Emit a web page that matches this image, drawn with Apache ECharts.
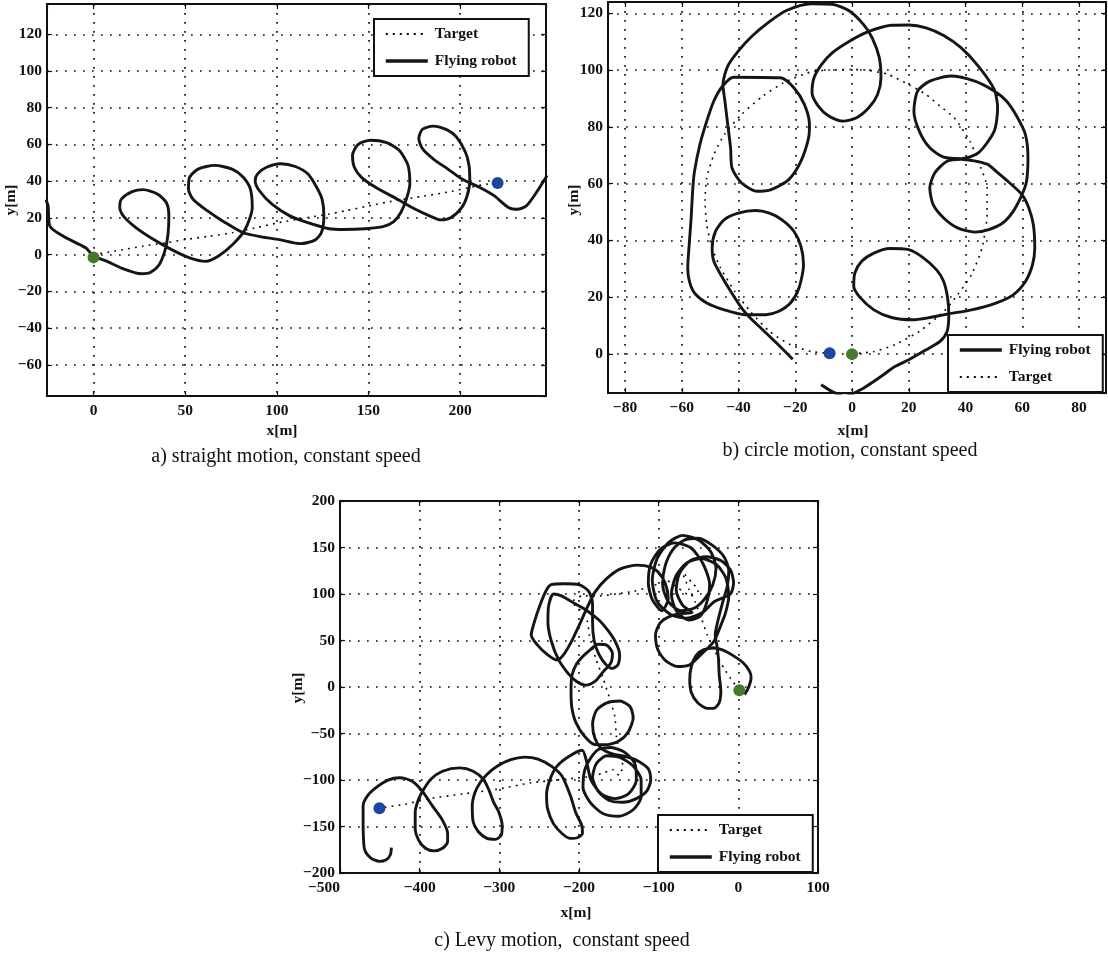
<!DOCTYPE html>
<html>
<head>
<meta charset="utf-8">
<script src="https://cdn.jsdelivr.net/npm/echarts@6/dist/echarts.min.js"></script>
<style>
html,body{margin:0;padding:0;background:#fff;}
#chart{width:1108px;height:956px;}
</style>
</head>
<body>
<div id="chart"></div>
<script>
// ---- (a) straight motion --------------------------------------------------
const robotA = [
  [-26,30],[-24.8,26.6],[-23.9,15.6],[-16.0,9.7],[-4.3,3.7],[0,-0.8],[7.4,-3.7],[15.2,-7.3],[26.0,-10.4],[30.9,-9.7],
  [35.8,-5.5],[39.1,2.7],[40.7,11.9],[41.1,21.1],[39.7,28.4],[34.8,33.0],[27.0,35.4],[21.1,34.3],[15.2,30.2],
  [14.3,25.7],[16.2,21.1],[23.1,14.7],[32.8,8.2],[42.6,2.7],[52.4,-1.8],[61.2,-3.7],[68.0,-0.9],[75.9,5.5],
  [82.7,13.7],[86.6,25.7],[85.6,35.7],[81.7,42.1],[75.9,46.4],[66.1,48.6],[57.3,46.7],[52.4,42.1],[51.8,35.7],
  [54.3,30.2],[62.2,23.8],[71.9,17.4],[81.7,11.9],[91.5,9.7],[101.3,8.2],[113.0,6.0],[120.8,7.9],[124.3,11.9],
  [125.7,21.1],[124.7,30.2],[121.8,36.6],[116.9,44.0],[110.1,48.0],[102.2,49.5],[94.4,47.6],[89.5,44.0],
  [88.2,40.3],[90.5,34.8],[97.4,27.5],[107.1,21.1],[116.9,17.4],[128.6,14.1],[136.5,13.7],[148.2,14.1],
  [158.0,15.2],[163.8,18.0],[167.7,22.9],[170.7,30.2],[172.6,38.5],[171.6,48.6],[166.8,56.8],[159.9,61.0],
  [151.1,62.3],[144.3,59.9],[141.3,54.0],[142.3,47.6],[146.2,42.1],[154.1,36.6],[165.8,30.2],[175.6,24.7],
  [183.4,21.1],[189.2,18.9],[195.1,20.2],[201.0,25.7],[203.9,32.1],[205.3,40.3],[204.9,48.6],[202.9,55.9],
  [198.0,64.1],[193.2,67.8],[185.3,70.0],[179.5,68.3],[177.5,63.2],[179.5,57.7],[185.3,52.2],[193.2,46.7],
  [201.0,41.2],[210.8,36.6],[218.6,32.1],[226.4,25.7],[231.3,24.7],[236.2,26.6],[241.1,33.0],[247.5,43.1]
];
const targetA = [
  [0,0],[12,2],[27,4.6],[40,6.5],[50,8.2],[63,10],[76,12],[88,14.5],[101,17.4],[117,20.2],[128,22],
  [137,23.8],[150,26.5],[164,29.3],[178,31.5],[193,34],[205,36.5],[212,38],[220,39]
];
const startA = [[0,-1.5]];
const endA = [[220.5,39]];

// ---- (b) circle motion ----------------------------------------------------
const robotB = [
  [-20.9,-1.9],[-26.6,3.8],[-31.5,8.5],[-36.4,13.2],[-38.9,16.1],[-42.0,20.8],[-45.6,26.7],[-48.7,32.6],
  [-49.3,37.3],[-48.1,43.2],[-45.0,47.3],[-40.1,49.6],[-34.0,50.5],[-29.1,49.6],[-24.8,47.3],[-20.5,43.2],
  [-18.0,37.9],[-17.1,31.4],[-18.7,23.2],[-21.7,17.9],[-26.0,14.9],[-30.3,13.8],[-37.7,13.8],[-45.0,15.5],
  [-51.2,17.9],[-55.5,21.4],[-57.3,25.5],[-57.9,30.2],[-57.3,39.6],[-56.7,47.9],[-56.1,58.5],[-55.5,64.4],
  [-53.6,73.8],[-51.2,82.0],[-48.7,89.1],[-45.6,94.4],[-41.7,97.5],[-25.2,97.3],[-20.5,93.8],[-16.8,87.9],
  [-15.0,80.8],[-15.3,76.1],[-18.0,67.9],[-22.3,61.4],[-28.5,57.9],[-33.4,57.3],[-38.9,60.2],[-42.3,65.5],
  [-42.8,72.6],[-43.8,80.8],[-44.8,89.1],[-45.5,94.9],[-43.8,101.4],[-40.1,106.7],[-35.2,112.0],[-29.1,117.1],
  [-22.9,121.1],[-14.4,123.4],[-7.0,123.2],[-0.9,120.8],[4.0,116.1],[7.1,111.4],[9.6,104.4],[10.2,97.3],
  [9.0,91.4],[5.9,86.7],[1.6,83.2],[-3.3,82.0],[-8.2,83.8],[-11.9,87.3],[-14.1,92.0],[-13.4,97.3],
  [-10.7,102.0],[-7.0,106.1],[-0.9,110.2],[5.3,113.4],[13.9,115.8],[20.0,115.9],[26.1,114.9],[32.3,112.2],
  [38.4,107.9],[44.5,101.4],[50.1,93.2],[51.3,86.7],[50.1,78.5],[44.5,70.8],[38.4,68.8],[32.3,69.3],
  [27.4,72.6],[23.7,78.5],[21.8,85.5],[23.1,92.6],[27.4,96.1],[34.7,97.9],[43.3,96.1],[50.1,92.6],
  [54.4,89.1],[58.0,83.8],[61.1,77.3],[62.0,69.1],[61.5,60.8],[59.9,56.1],[56.8,50.2],[53.1,46.1],
  [48.2,43.8],[43.3,42.9],[37.2,44.4],[32.3,47.9],[28.6,52.6],[27.4,58.5],[29.2,63.8],[33.5,67.9],
  [38.4,68.6],[47.6,66.9],[50.7,64.4],[55.6,60.2],[59.9,56.1],[62.3,51.4],[63.9,45.5],[64.4,37.3],
  [63.6,31.4],[61.1,25.5],[56.8,20.8],[50.7,17.9],[42.1,15.5],[33.5,14.0],[27.4,12.8],[21.2,12.0],
  [13.9,12.8],[7.7,15.5],[2.8,19.9],[0.6,23.8],[1.0,28.5],[3.4,32.6],[7.7,35.5],[13.3,37.1],[20.0,36.7],
  [24.9,34.0],[29.8,29.6],[32.3,25.5],[33.7,19.6],[34.1,13.8],[33.5,7.9],[31.0,4.4],[26.1,1.4],[20.0,-2.1],
  [15.1,-4.5],[10.2,-8.0],[4.0,-12.1],[-2.7,-15.0],[-7.0,-13.3],[-10.9,-10.9]
];
const targetB = [
  [0,0],[7.7,0.8],[15.1,3.2],[23.7,7.9],[32.3,14.9],[37.2,20.8],[42.1,27.9],[45.8,37.3],[47.6,49.1],
  [47.6,58.5],[44.5,67.9],[41.5,75],[36.0,83.2],[31.0,87.3],[26.1,91.4],[20.0,94.9],[12.6,98.5],[5.3,100.0],
  [0,100.2],[-8.2,100],[-14.4,99.4],[-24.2,95.5],[-31.5,90.8],[-38.9,84.4],[-45.0,77.3],[-48.7,70.2],
  [-51.2,62.0],[-51.8,53.8],[-51.2,45.5],[-49.3,37.3],[-46.3,30.2],[-41.3,22.0],[-35.8,14.9],[-29.1,7.9],
  [-21.7,3.2],[-14.4,0.8],[-7.9,0.2]
];
const startB = [[0,-0.1]];
const endB = [[-7.9,0.2]];

// ---- (c) Levy motion ------------------------------------------------------
const robotC = [
  // leaving the start point
  [8,-8],[13,0],[16,10],[14,17],[6,26],[-7,34],[-20,40],[-31,42],[-44,40],[-53,34],[-59,22],[-61,8],[-59,-6],
  [-51,-17],[-39,-23],[-31,-23],[-24,-17],[-22,-4],[-24,13],[-25,31],[-27,45],[-29,56],
  // cluster of loops upper right
  [-26,70],[-20,90],[-14,108],[-12,125],[-18,140],[-32,152],[-50,160],[-68,158],[-82,148],[-92,130],[-95,110],
  [-88,92],[-72,82],[-55,85],[-42,95],
  [-32,110],[-28,128],[-35,146],[-50,158],[-70,163],[-88,155],[-102,138],[-108,115],[-102,92],[-85,78],[-65,74],[-45,80],
  [-30,92],[-10,100],[-6,112],[-10,126],[-22,136],[-40,140],[-60,136],[-74,122],[-78,104],[-70,88],[-58,80],
  [-72,79],[-86,76],[-98,69],[-104,56],[-101,40],[-91,28],[-76,22],[-61,24],[-48,34],[-37,43],[-30,50],
  [-24,62],[-16,80],[-12,98],[-16,118],[-28,132],[-46,138],[-64,134],[-78,120],[-84,100],[-78,82],[-62,72],[-48,76],
  [-40,90],[-36,110],[-44,132],[-60,150],[-80,155],[-98,148],[-110,132],[-113,112],[-108,94],[-96,82],[-88,95],
  [-92,112],[-101,124],
  // long arc to the middle cluster
  [-110,129],[-127,131],[-148,127],[-166,116],[-180,102],
  [-190,85],[-200,66],[-210,48],[-220,34],[-228,29],[-240,35],[-252,45],[-260,56],[-256,70],[-249,88],[-241,104],
  [-235,110],[-218,111],[-200,110],[-188,103],[-183,90],[-183,70],[-181,50],[-175,35],[-166,24],[-158,20],
  [-151,24],[-149,35],[-154,48],[-163,60],[-175,72],[-190,82],[-206,90],[-222,98],[-232,100],[-238,88],
  [-239,70],[-235,50],[-226,30],[-214,15],[-203,6],[-191,2],[-180,6],[-170,16],[-160,26],[-158,36],[-165,45],
  [-176,46],[-186,40],[-195,33],[-203,25],[-209,12],[-210,-5],
  // down to the lower cluster
  [-209,-22],[-204,-38],[-193,-53],[-180,-62],
  [-165,-62],[-150,-58],[-138,-48],[-132,-33],[-136,-21],[-149,-15],[-165,-17],[-178,-25],[-183,-40],[-180,-55],
  [-172,-66],[-158,-72],[-140,-75],[-125,-80],[-113,-88],[-110,-100],[-115,-112],[-128,-120],[-145,-124],
  [-162,-122],[-176,-112],[-183,-97],[-178,-82],[-165,-74],[-148,-76],[-132,-85],[-122,-100],[-122,-118],
  [-132,-132],[-150,-139],[-170,-136],[-186,-124],[-195,-108],[-193,-90],[-185,-76],[-175,-67],[-160,-65],
  [-143,-70],[-130,-82],[-128,-100],[-138,-115],[-155,-120],[-172,-115],[-185,-100],[-190,-82],[-196,-68],
  // loops along the run to the lower left
  [-212.8,-74.7],[-227.8,-85.3],[-236.4,-99.4],[-240.7,-115.2],[-239.4,-131.1],[-232.1,-146.9],[-221.4,-157.5],
  [-210.7,-162.8],[-202.1,-162.1],[-195.7,-157.5],[-196.6,-148.7],[-204.3,-134.6],[-210.7,-117.0],[-221.4,-95.8],
  [-234.3,-85.3],[-251.4,-77.5],[-268.5,-75.4],[-285.7,-78.2],[-302.8,-85.3],[-315.6,-94.1],[-324.2,-102.9],
  [-330.6,-113.5],[-334,-127.6],[-332.8,-145.2],[-326.3,-155.7],[-315.6,-162.8],[-304.9,-163.8],[-297.6,-159.3],
  [-296.4,-148.7],[-300.6,-134.6],[-307.1,-124.0],[-313.5,-109.9],[-319.9,-99.4],[-332.8,-90.6],[-349.9,-87.0],
  [-371.3,-90.6],[-386.3,-99.4],[-394.9,-109.9],[-401.3,-120.5],[-405.6,-134.6],[-405.6,-152.2],[-401.3,-164.6],
  [-392.7,-173.4],[-382,-176.2],[-371.3,-173.4],[-364.9,-166.3],[-364.9,-157.5],[-371.3,-143.4],[-384.2,-127.6],
  [-397,-111.7],[-409.9,-101.1],[-424.8,-97.6],[-439.8,-100.1],[-454.8,-108.2],[-465.5,-117],[-471,-127.6],
  [-471,-141.6],[-470.7,-159.3],[-469,-175.1],[-461.3,-183.9],[-450.5,-187.5],[-442,-185.7],[-436.8,-180.4],
  [-435.5,-172.7]
];
const targetC = [
  [1,-3],[-7,6],[-18,20],[-29,38],[-39,56],[-46,73],[-54,91],[-62,105],[-67,116],[-72,126],[-66,120],[-58,112],
  [-50,104],[-60,98],[-75,106],[-89,114],[-110,108],[-131,103],[-153,100],[-174,98],[-196,98],[-209,91],
  [-200,84],[-190,72],[-187,56],[-179,31],[-170,10],[-162,-11],[-155,-32],[-153,-54],[-149,-71],[-145,-85],
  [-150,-95],[-157,-89],[-168,-92],[-183,-96],[-217,-99],[-260,-103],[-303,-110],[-346,-115],[-388,-120],
  [-418,-126],[-450,-130]
];
const startC = [[1.3,-3.5]];
const endC = [[-450.5,-130.4]];

// ---- axis extents ---------------------------------------------------------
const xRangeA = [-25.4, 246.9], yRangeA = [-77, 136.5];
const xRangeB = [-86, 89.5],   yRangeB = [-13.8, 124];
const xRangeC = [-500, 100],   yRangeC = [-200, 200];

const captions = ['a) straight motion, constant speed', 'b) circle motion, constant speed', 'c) Levy motion,  constant speed'];

// ---- styling helpers ------------------------------------------------------
const INK = '#111';
const FONT = '"Liberation Serif", "Times New Roman", Times, serif';
const minus = v => String(v).replace('-', '\u2212');

function axis(dim, gi, range, opts) {
  const labelled = opts.labels;
  const a = {
    type: 'value', gridIndex: gi, position: opts.position,
    min: range[0], max: range[1],
    axisLine: { show: true, onZero: false, lineStyle: { color: INK, width: 2 } },
    axisTick: { show: true, inside: true, length: 5, lineStyle: { color: INK, width: 1.2 } },
    axisLabel: {
      show: labelled, color: INK, fontFamily: FONT, fontWeight: 'bold', fontSize: 15.5,
      margin: dim === 'x' ? 7 : 5, formatter: minus,
      showMinLabel: opts.edgeLabels, showMaxLabel: opts.edgeLabels
    },
    splitLine: { show: labelled, lineStyle: { color: INK, width: 1.7, type: [1.7, 7.3] } }
  };
  if (opts.interval) a.interval = opts.interval; else a.splitNumber = opts.split;
  if (opts.alignMin) a.axisLabel.alignMinLabel = opts.alignMin;
  return a;
}

function axesFor(gi, xr, yr, xo, yo) {
  return {
    x: [axis('x', gi, xr, Object.assign({ position: 'bottom', labels: true }, xo)),
        axis('x', gi, xr, Object.assign({ position: 'top', labels: false }, xo))],
    y: [axis('y', gi, yr, Object.assign({ position: 'left', labels: true }, yo)),
        axis('y', gi, yr, Object.assign({ position: 'right', labels: false }, yo))]
  };
}

const axA = axesFor(0, xRangeA, yRangeA, { split: 5, edgeLabels: false }, { split: 10, edgeLabels: false });
const axB = axesFor(1, xRangeB, yRangeB, { split: 9, edgeLabels: false }, { split: 7, edgeLabels: false });
const axC = axesFor(2, xRangeC, yRangeC, { interval: 100, edgeLabels: true, alignMin: 'right' }, { interval: 50, edgeLabels: true });

function robotSeries(data, xi) {
  return {
    name: 'Flying robot', type: 'line', data, xAxisIndex: xi, yAxisIndex: xi,
    showSymbol: false, symbol: 'none', smooth: 0.25, clip: true, z: 3,
    lineStyle: { color: '#151515', width: 2.9 }, itemStyle: { color: '#151515' }
  };
}
function targetSeries(data, xi) {
  return {
    name: 'Target', type: 'line', data, xAxisIndex: xi, yAxisIndex: xi,
    showSymbol: false, symbol: 'none', smooth: 0.2, clip: true, z: 2,
    lineStyle: { color: '#000', width: 1.6, type: [1.8, 5.2] }, itemStyle: { color: '#000' }
  };
}
function dot(data, xi, color) {
  return {
    type: 'scatter', data, xAxisIndex: xi, yAxisIndex: xi, symbolSize: 12, z: 5,
    itemStyle: { color, opacity: 1 }, silent: true
  };
}
const GREEN = '#437a2c', BLUE = '#1b47a0';

const legendItems = {
  'Target': { name: 'Target', lineStyle: { width: 2, type: [2, 5], color: '#000' } },
  'Flying robot': { name: 'Flying robot', lineStyle: { width: 3.6, color: '#151515' } }
};
function legendBox(order, left, top) {
  return {
    data: order.map(n => legendItems[n]), orient: 'vertical', left, top, selectedMode: false,
    backgroundColor: '#fff', borderColor: INK, borderWidth: 2, borderRadius: 0,
    padding: [7, 12, 7, 10], itemWidth: 42, itemHeight: 12, itemGap: 11,
    itemStyle: { opacity: 0 },
    textStyle: { fontFamily: FONT, fontWeight: 'bold', fontSize: 15.5, color: INK, padding: [0, 0, 0, 2] }
  };
}

function label(text, x, y, opts) {
  opts = opts || {};
  return {
    type: 'text', x, y, rotation: opts.rot || 0, z: 10,
    style: {
      text, fill: INK, fontFamily: FONT, fontSize: opts.size || 15.5,
      fontWeight: opts.weight || 'bold', align: 'center', verticalAlign: 'middle'
    }
  };
}

const chart = echarts.init(document.getElementById('chart'), null, { renderer: 'canvas' });
chart.setOption({
  animation: false,
  backgroundColor: '#fff',
  grid: [
    { left: 47, top: 4, width: 499, height: 392, show: true, borderColor: INK, borderWidth: 2 },
    { left: 608, top: 2, width: 498, height: 391, show: true, borderColor: INK, borderWidth: 2 },
    { left: 340, top: 501, width: 478, height: 372, show: true, borderColor: INK, borderWidth: 2 }
  ],
  xAxis: [].concat(axA.x, axB.x, axC.x),
  yAxis: [].concat(axA.y, axB.y, axC.y),
  legend: [
    legendBox(['Target', 'Flying robot'], 374, 19),
    legendBox(['Flying robot', 'Target'], 948, 335),
    legendBox(['Target', 'Flying robot'], 658, 815)
  ],
  series: [
    targetSeries(targetA, 0), robotSeries(robotA, 0), dot(startA, 0, GREEN), dot(endA, 0, BLUE),
    targetSeries(targetB, 2), robotSeries(robotB, 2), dot(startB, 2, GREEN), dot(endB, 2, BLUE),
    targetSeries(targetC, 4), robotSeries(robotC, 4), dot(startC, 4, GREEN), dot(endC, 4, BLUE)
  ],
  graphic: [
    label('x[m]', 282, 431), label('y[m]', 11, 200, { rot: Math.PI / 2 }),
    label('x[m]', 853, 431), label('y[m]', 574, 200, { rot: Math.PI / 2 }),
    label('x[m]', 576, 913), label('y[m]', 298, 688, { rot: Math.PI / 2 }),
    label(captions[0], 286, 457, { size: 20, weight: 'normal' }),
    label(captions[1], 850, 451, { size: 20, weight: 'normal' }),
    label(captions[2], 562, 941, { size: 20, weight: 'normal' })
  ]
});
</script>
</body>
</html>
